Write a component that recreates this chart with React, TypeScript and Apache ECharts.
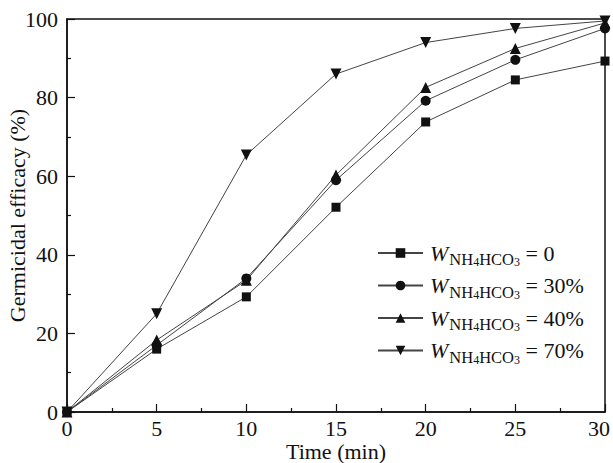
import React, { useEffect, useRef } from "react";
import * as echarts from "echarts";

const times = [0, 5, 10, 15, 20, 25, 30];
const seriesNames = ["0", "30%", "40%", "70%"];
const values0 = [0, 16, 29.3, 52.1, 73.8, 84.5, 89.3];
const values30 = [0, 17, 34, 59, 79.2, 89.6, 97.6];
const values40 = [0, 18.3, 33.5, 60.3, 82.6, 92.5, 99];
const values70 = [0, 25, 65.4, 86, 94, 97.6, 99.5];
const xAxisName = "Time (min)";
const yAxisName = "Germicidal efficacy (%)";

const FONT = "Liberation Serif";

export default function App() {
  const ref = useRef<HTMLDivElement>(null);
  useEffect(() => {
    if (!ref.current) return;
    const chart = echarts.init(ref.current, undefined, { renderer: "svg" });
    const allValues = [values0, values30, values40, values70];
    const symbols = ["rect", "circle", "triangle", "triangle"];
    const sizes = [9, 10, 11, 11];
    const rotates = [0, 0, 0, 180];
    const series = allValues.map((vals, i) => ({
      name: seriesNames[i],
      type: "line",
      data: times.map((t, j) => [t, vals[j]]),
      symbol: symbols[i],
      symbolSize: sizes[i],
      symbolRotate: rotates[i],
      clip: false,
      lineStyle: { color: "#444", width: 1 },
      itemStyle: { color: "#111" },
      z: 3,
    }));
    chart.setOption({
      animation: false,
      backgroundColor: "#fff",
      textStyle: { fontFamily: FONT },
      grid: {
        left: 67,
        right: 8,
        top: 19,
        bottom: 51,
        containLabel: false,
        outerBoundsMode: "none",
        show: true,
        borderColor: "#111",
        borderWidth: 1.5,
        backgroundColor: "transparent",
      },
      legend: {
        orient: "vertical",
        left: 377,
        top: 242,
        padding: 0,
        itemWidth: 45,
        itemHeight: 12,
        itemGap: 6.5,
        data: seriesNames,
        formatter: (name: string) =>
          `{w|W}{s|NH}{ss|4}{s|HCO}{ss|3}{t| = ${name}}`,
        textStyle: {
          color: "#111",
          fontFamily: FONT,
          rich: {
            w: { fontSize: 22, fontStyle: "italic", lineHeight: 30, fontFamily: FONT, color: "#111", padding: [0, 1, 0, 2] },
            s: { fontSize: 16.5, lineHeight: 18.6, verticalAlign: "bottom", fontFamily: FONT, color: "#111" },
            ss: { fontSize: 12, lineHeight: 12.4, verticalAlign: "bottom", fontFamily: FONT, color: "#111" },
            t: { fontSize: 22, lineHeight: 30, fontFamily: FONT, color: "#111" },
          },
        },
      },
      xAxis: {
        type: "value",
        min: 0,
        max: 30,
        interval: 5,
        name: xAxisName,
        nameLocation: "middle",
        nameGap: 28,
        nameMoveOverlap: false,
        nameTextStyle: { fontSize: 22, color: "#111", fontFamily: FONT },
        axisLine: { lineStyle: { color: "#111", width: 1.5 } },
        axisTick: { inside: true, length: 8, lineStyle: { color: "#111", width: 1.2 } },
        minorTick: { show: true, splitNumber: 2, length: 4, lineStyle: { color: "#111", width: 1.2 } },
        axisLabel: {
          fontSize: 22,
          color: "#111",
          margin: 5,
          fontFamily: FONT,
          formatter: (v: number) => (v === 30 ? `{r|${v}}` : `${v}`),
          rich: { r: { fontSize: 22, color: "#111", fontFamily: FONT, padding: [0, 12, 0, 0] } },
        },
        splitLine: { show: false },
      },
      yAxis: {
        type: "value",
        min: 0,
        max: 100,
        interval: 20,
        name: yAxisName,
        nameLocation: "middle",
        nameGap: 39,
        nameRotate: 90,
        nameMoveOverlap: false,
        nameTextStyle: { fontSize: 22, color: "#111", fontFamily: FONT },
        axisLine: { show: true, lineStyle: { color: "#111", width: 1.5 } },
        axisTick: { show: true, inside: true, length: 8, lineStyle: { color: "#111", width: 1.2 } },
        minorTick: { show: true, splitNumber: 2, length: 4, lineStyle: { color: "#111", width: 1.2 } },
        axisLabel: { fontSize: 22, color: "#111", margin: 9, fontFamily: FONT },
        splitLine: { show: false },
      },
      series,
    });
    return () => chart.dispose();
  }, []);
  return (
    <div
      ref={ref}
      style={{ position: "fixed", left: 0, top: 0, width: 613, height: 463 }}
    />
  );
}
